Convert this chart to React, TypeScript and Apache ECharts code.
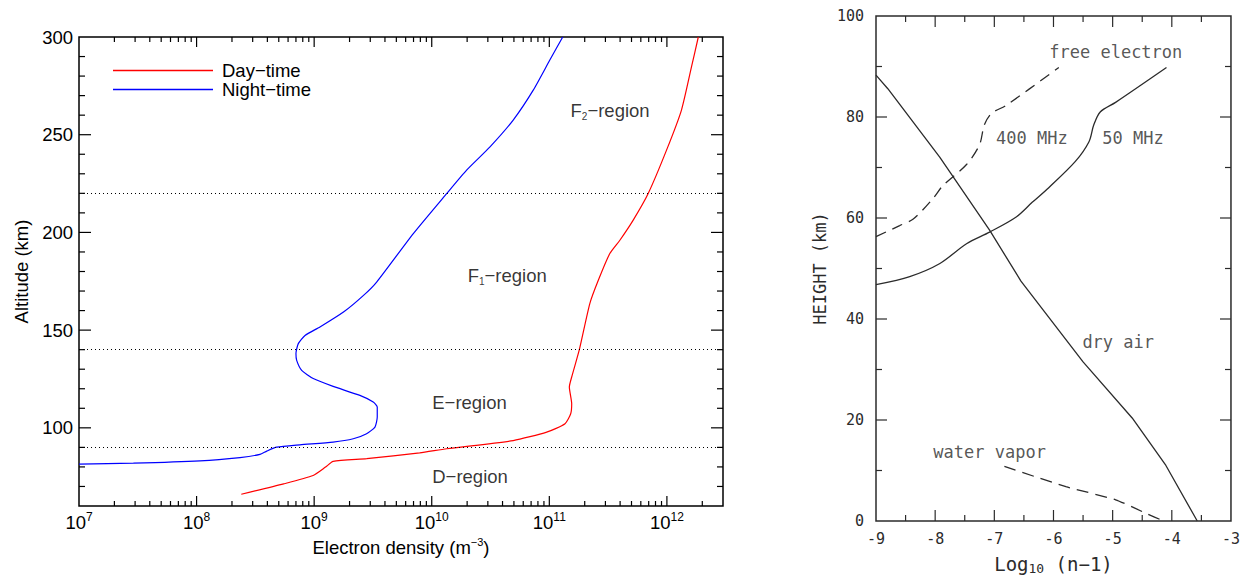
import React, { useEffect, useRef } from 'react';
import * as echarts from 'echarts';

const FONT = "'Liberation Sans', Arial, sans-serif";
const MONO = "'DejaVu Sans Mono', monospace";

// ---------- Left panel: electron density profiles ----------
// [electron density (m^-3), altitude (km)]
const dayTime: [number, number][] = [
  [2.4e8, 66.0], [5.5e8, 71.3], [9.8e8, 75.6], [1.25e9, 79.9], [1.45e9, 82.8],
  [2.8e9, 84.2], [7.9e9, 87.2], [1.34e10, 89.3], [4.93e10, 93.5], [9.5e10, 97.8],
  [1.36e11, 102.1], [1.52e11, 107.2], [1.55e11, 112.3], [1.48e11, 120.9], [1.55e11, 126.0],
  [1.8e11, 140.0], [2.21e11, 163.6], [2.61e11, 175.5], [3.27e11, 189.2], [3.98e11, 196.0],
  [5.17e11, 206.3], [6.93e11, 219.9], [9.93e11, 242.1], [1.33e12, 262.6], [1.62e12, 284.8],
  [1.85e12, 300.0],
];
const nightTime: [number, number][] = [
  [1.0e7, 81.4], [2.9e7, 81.9], [1.07e8, 83.1], [2.34e8, 84.8], [3.46e8, 86.4],
  [3.95e8, 88.1], [4.8e8, 90.1], [7.57e8, 91.3], [1.45e9, 92.7], [2.15e9, 94.4],
  [2.79e9, 97.0], [3.29e9, 100.4], [3.44e9, 105.5], [3.44e9, 110.6], [3.18e9, 113.2],
  [2.45e9, 116.6], [1.45e9, 121.2], [9.82e8, 125.2], [7.83e8, 129.4], [7.1e8, 134.5],
  [7.0e8, 138.0], [7.33e8, 143.1], [8.36e8, 147.3], [1.12e9, 151.6], [1.8e9, 159.5],
  [2.6e9, 167.5], [3.4e9, 174.6], [6.97e9, 199.4], [1.34e10, 219.9], [1.98e10, 231.9],
  [3.13e10, 243.8], [4.93e10, 257.5], [7.3e10, 272.8], [1.01e11, 288.2], [1.3e11, 300.0],
];
const regionBoundaries = [90, 140, 220];
const regionLabelText = ['F{s|2}−region', 'F{s|1}−region', 'E−region', 'D−region'];
const regionLabelPos: [number, number][] = [[1.5e11, 262.6], [2.0e10, 178], [1.0e10, 113.2], [1.0e10, 75.3]];
const densityRange = [1e7, 3e12];
const altitudeRange = [60, 300];
const densityDecades = [1e8, 1e9, 1e10, 1e11, 1e12];
const altitudeMajor = [100, 150, 200, 250, 300];
const altitudeMinor = [70, 80, 90, 110, 120, 130, 140, 160, 170, 180, 190, 210, 220, 230, 240, 260, 270, 280, 290];

// ---------- Right panel: refractivity ----------
// [log10(n-1), height (km)]
const dryAir: [number, number][] = [
  [-9.0, 88.3], [-8.8, 85.6], [-7.92, 72.0], [-7.08, 57.6], [-6.55, 47.5],
  [-5.5, 31.5], [-4.67, 20.4], [-4.1, 11.0], [-3.57, 0],
];
const freeElectron400: [number, number][] = [
  [-9.0, 56.3], [-8.6, 58.5], [-8.37, 59.8], [-8.04, 63.8], [-7.87, 66.4],
  [-7.47, 70.6], [-7.25, 74.5], [-7.17, 78.4], [-7.05, 80.7], [-6.8, 82.3], [-5.91, 89.8],
];
const freeElectron50: [number, number][] = [
  [-9.0, 46.8], [-8.43, 48.4], [-7.92, 51.0], [-7.47, 54.9], [-7.08, 57.2],
  [-6.63, 60.2], [-6.36, 63.1], [-6.08, 66.0], [-5.63, 71.2], [-5.4, 75.1],
  [-5.32, 78.4], [-5.21, 81.0], [-4.95, 82.9], [-4.09, 89.8],
];
const waterVapor: [number, number][] = [
  [-6.83, 10.8], [-5.79, 6.8], [-4.95, 4.2], [-4.45, 1.6], [-4.14, 0],
];
const rightLabels = ['free electron', '400 MHz', '50 MHz', 'dry air', 'water vapor'];
const rightLabelPos: [number, number][] = [[-6.08, 92.8], [-6.98, 75.8], [-5.185, 75.8], [-5.52, 35.5], [-8.04, 13.7]];
const logRange = [-9, -3];
const heightRange = [0, 100];
const logMajor = [-8, -7, -6, -5, -4];
const logMinor = [-8.5, -7.5, -6.5, -5.5, -4.5, -3.5];
const heightMajor = [20, 40, 60, 80];
const heightMinor = [10, 30, 50, 70, 90];

function logMinorTicks(lo: number, hi: number): number[] {
  const out: number[] = [];
  for (let e = Math.floor(Math.log10(lo)); e <= Math.ceil(Math.log10(hi)); e++) {
    for (let k = 2; k <= 9; k++) {
      const v = k * Math.pow(10, e);
      if (v > lo && v < hi) out.push(v);
    }
  }
  return out;
}

type Tick = [number, number, number, number];
function buildTicks(
  xr: number[], yr: number[],
  xMaj: number[], xMin: number[], yMaj: number[], yMin: number[],
  L: { xMaj: number; xMin: number; yMaj: number; yMin: number; rMaj: number; rMin: number }
): Tick[] {
  const t: Tick[] = [];
  xMaj.forEach((v) => { t.push([v, yr[0], 0, -L.xMaj]); t.push([v, yr[1], 0, L.xMaj]); });
  xMin.forEach((v) => { t.push([v, yr[0], 0, -L.xMin]); t.push([v, yr[1], 0, L.xMin]); });
  yMaj.forEach((v) => { t.push([xr[0], v, L.yMaj, 0]); t.push([xr[1], v, -L.rMaj, 0]); });
  yMin.forEach((v) => { t.push([xr[0], v, L.yMin, 0]); t.push([xr[1], v, -L.rMin, 0]); });
  return t;
}

function tickSeries(idx: number, items: Tick[], color: string, width: number) {
  return {
    type: 'custom',
    xAxisIndex: idx,
    yAxisIndex: idx,
    silent: true,
    z: 5,
    data: items.map((t) => [t[0], t[1]]),
    renderItem: (params: any, api: any) => {
      const t = items[params.dataIndex];
      const p = api.coord([t[0], t[1]]);
      return {
        type: 'line',
        shape: { x1: p[0], y1: p[1], x2: p[0] + t[2], y2: p[1] + t[3] },
        style: { stroke: color, lineWidth: width, fill: null },
      };
    },
  };
}

export default function App() {
  const ref = useRef<HTMLDivElement>(null);

  useEffect(() => {
    if (!ref.current) return;
    const chart = echarts.init(ref.current, undefined, { renderer: 'svg' });

    const leftTicks = buildTicks(
      densityRange, altitudeRange, densityDecades, logMinorTicks(densityRange[0], densityRange[1]),
      altitudeMajor.filter((v) => v < altitudeRange[1]), altitudeMinor,
      { xMaj: 10, xMin: 5, yMaj: 12, yMin: 6, rMaj: 12, rMin: 6 }
    );
    const rightTicks = buildTicks(
      logRange, heightRange, logMajor, logMinor, heightMajor, heightMinor,
      { xMaj: 11, xMin: 6, yMaj: 11, yMin: 6, rMaj: 11, rMin: 6 }
    );

    const ink = '#2b2b2b';
    const clear = 'rgba(0,0,0,0)';

    const option: any = {
      animation: false,
      backgroundColor: '#ffffff',
      legend: {
        data: ['Day−time', 'Night−time'],
        orient: 'vertical',
        left: 108,
        top: 56,
        itemWidth: 100,
        itemHeight: 1.5,
        itemGap: 0,
        icon: 'rect',
        selectedMode: false,
        textStyle: { fontFamily: FONT, fontSize: 18.5, color: '#000', lineHeight: 19, padding: [0, 0, 0, 4] },
      },
      grid: [
        { left: 79, top: 37, width: 644, height: 469, show: true, borderColor: '#000', borderWidth: 1.5, containLabel: false },
        { left: 876, top: 16, width: 357, height: 512, show: true, borderColor: ink, borderWidth: 1.5, containLabel: false },
      ],
      xAxis: [
        {
          type: 'log', logBase: 10, gridIndex: 0, min: densityRange[0], max: densityRange[1],
          axisLine: { show: false }, axisTick: { show: false }, splitLine: { show: false },
          axisLabel: {
            margin: 5, showMaxLabel: false,
            formatter: (v: number) => `{b|10}{p|${Math.round(Math.log10(v))}}`,
            rich: {
              b: { fontFamily: FONT, fontSize: 18.5, color: '#000', lineHeight: 22 },
              p: { fontFamily: FONT, fontSize: 12, color: '#000', lineHeight: 12, verticalAlign: 'top' },
            },
          },
          name: 'Electron density (m{p|−3})', nameLocation: 'middle', nameGap: 29,
          nameTextStyle: {
            fontFamily: FONT, fontSize: 18.5, color: '#000', lineHeight: 22,
            rich: { p: { fontFamily: FONT, fontSize: 11, color: '#000', lineHeight: 12, verticalAlign: 'top' } },
          },
        },
        {
          type: 'value', gridIndex: 1, min: logRange[0], max: logRange[1], interval: 1,
          axisLine: { show: false }, axisTick: { show: false }, splitLine: { show: false },
          axisLabel: { margin: 10, fontFamily: MONO, fontSize: 15, color: ink, formatter: (v: number) => String(v) },
          name: 'Log{s|10} (n−1)', nameLocation: 'middle', nameGap: 32,
          nameTextStyle: {
            fontFamily: MONO, fontSize: 19, color: ink, lineHeight: 22,
            rich: { s: { fontFamily: MONO, fontSize: 13, color: ink, lineHeight: 14, verticalAlign: 'bottom' } },
          },
        },
      ],
      yAxis: [
        {
          type: 'value', gridIndex: 0, min: altitudeRange[0], max: altitudeRange[1], interval: 10,
          axisLine: { show: false }, axisTick: { show: false }, splitLine: { show: false },
          axisLabel: {
            margin: 6, fontFamily: FONT, fontSize: 18.5, color: '#000',
            formatter: (v: number) => (altitudeMajor.indexOf(v) >= 0 ? String(v) : ''),
          },
          name: 'Altitude (km)', nameLocation: 'middle', nameGap: 48,
          nameTextStyle: { fontFamily: FONT, fontSize: 18.5, color: '#000' },
        },
        {
          type: 'value', gridIndex: 1, min: heightRange[0], max: heightRange[1], interval: 20,
          axisLine: { show: false }, axisTick: { show: false }, splitLine: { show: false },
          axisLabel: { margin: 12, fontFamily: MONO, fontSize: 15, color: ink },
          name: 'HEIGHT (km)', nameLocation: 'middle', nameGap: 48,
          nameTextStyle: { fontFamily: MONO, fontSize: 17, color: ink },
        },
      ],
      series: [
        {
          name: 'Day−time', type: 'line', xAxisIndex: 0, yAxisIndex: 0, data: dayTime,
          showSymbol: false, symbol: 'none', smooth: 0.2, color: '#ff0000',
          lineStyle: { color: '#ff0000', width: 1.2 },
          markLine: {
            silent: true, symbol: ['none', 'none'], label: { show: false },
            lineStyle: { color: '#000', width: 1, type: [1, 3] },
            emphasis: { disabled: true },
            data: regionBoundaries.map((v) => ({ yAxis: v })),
          },
        },
        {
          name: 'Night−time', type: 'line', xAxisIndex: 0, yAxisIndex: 0, data: nightTime,
          showSymbol: false, symbol: 'none', smooth: 0.2, color: '#0000ff',
          lineStyle: { color: '#0000ff', width: 1.2 },
        },
        {
          type: 'scatter', xAxisIndex: 0, yAxisIndex: 0, silent: true, symbolSize: 1,
          itemStyle: { color: clear },
          data: regionLabelPos.map((v) => ({ value: v })),
          label: {
            show: true, position: 'right', distance: 0,
            formatter: (p: any) => regionLabelText[p.dataIndex],
            fontFamily: FONT, fontSize: 18.5, color: '#000', lineHeight: 22,
            rich: { s: { fontFamily: FONT, fontSize: 10, color: '#000', lineHeight: 12, verticalAlign: 'bottom' } },
          },
        },
        tickSeries(0, leftTicks, '#000', 1.2),
        {
          name: 'dry air', type: 'line', xAxisIndex: 1, yAxisIndex: 1, data: dryAir,
          showSymbol: false, symbol: 'none', lineStyle: { color: ink, width: 1.3 },
        },
        {
          name: 'free electron 400 MHz', type: 'line', xAxisIndex: 1, yAxisIndex: 1, data: freeElectron400,
          showSymbol: false, symbol: 'none', smooth: 0.3, lineStyle: { color: ink, width: 1.3, type: [11, 7] },
        },
        {
          name: 'free electron 50 MHz', type: 'line', xAxisIndex: 1, yAxisIndex: 1, data: freeElectron50,
          showSymbol: false, symbol: 'none', smooth: 0.3, lineStyle: { color: ink, width: 1.3 },
        },
        {
          name: 'water vapor', type: 'line', xAxisIndex: 1, yAxisIndex: 1, data: waterVapor,
          showSymbol: false, symbol: 'none', smooth: 0.2, lineStyle: { color: ink, width: 1.3, type: [12, 7] },
        },
        {
          type: 'scatter', xAxisIndex: 1, yAxisIndex: 1, silent: true, symbolSize: 1,
          itemStyle: { color: clear },
          data: rightLabelPos.map((v) => ({ value: v })),
          label: {
            show: true, position: 'right', distance: 0,
            formatter: (p: any) => rightLabels[p.dataIndex],
            fontFamily: MONO, fontSize: 17, color: ink,
          },
        },
        tickSeries(1, rightTicks, ink, 1.2),
      ],
    };

    chart.setOption(option);
    return () => chart.dispose();
  }, []);

  return (
    <div
      ref={ref}
      style={{ position: 'fixed', left: 0, top: 0, width: 1243, height: 580, background: '#fff' }}
    />
  );
}
